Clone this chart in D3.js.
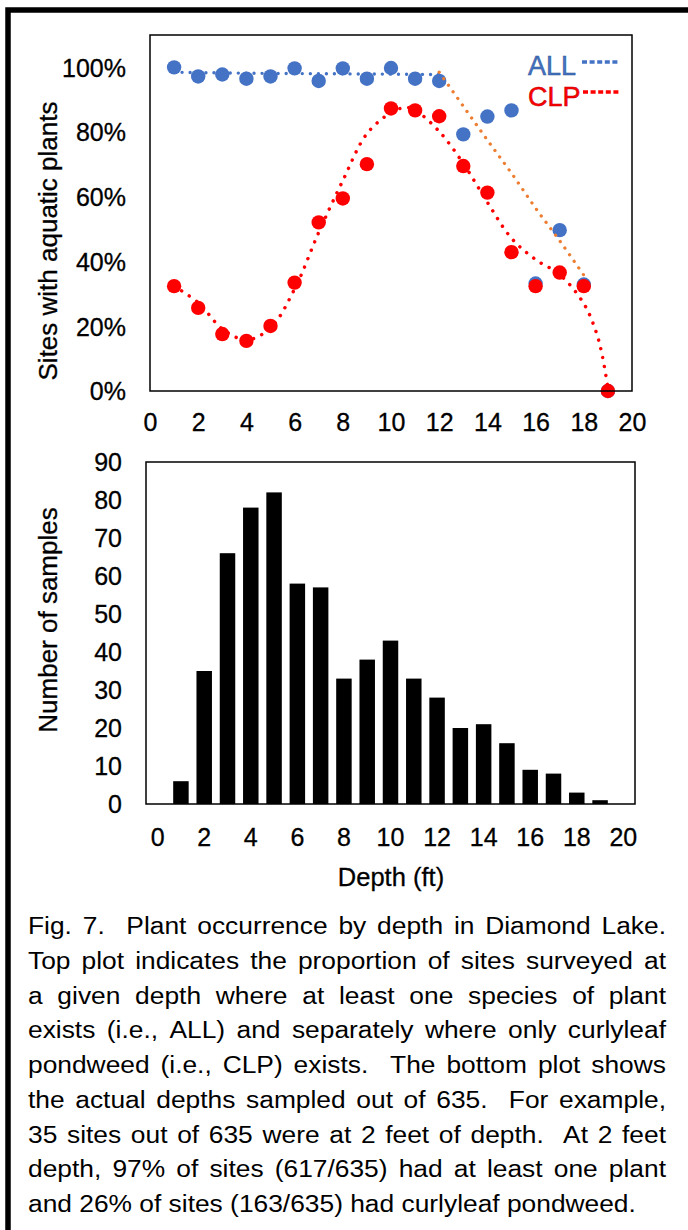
<!DOCTYPE html>
<html><head><meta charset="utf-8">
<script src="https://cdn.jsdelivr.net/npm/d3@7"></script>
<style>html,body{margin:0;padding:0;background:#fff;} svg{display:block;}</style>
</head><body><svg id="c" width="688" height="1230"></svg>
<script>
// ---------- data ----------
const allDepths = [1,2,3,4,5,6,7,8,9,10,11,12,13,14,15,16,17,18,19];
const allPct    = [100,97.2,97.8,96.5,97.2,99.7,95.8,99.7,96.5,99.8,96.5,95.8,79.3,84.8,86.7,33.2,49.7,32.9,0];
const clpDepths = [1,2,3,4,5,6,7,8,9,10,11,12,13,14,15,16,17,18,19];
const clpPct    = [32.4,25.7,17.6,15.5,20.1,33.5,52.1,59.5,70.1,87.3,86.7,84.9,69.5,61.3,42.9,32.4,36.6,32.4,0];
// trend lines
const allTrendX = [1,4,8,12];
const allTrendY = [98.5,98.2,98.0,97.8];
const allTrend2X = [12,13,14,15,16,17,18];
const allTrend2Y = [98.5,88.0,77.5,67.3,56.5,46.4,35.8];
const clpTrendX = [1,2,3,4,5,6,7,8,9,10,10.6,11,12,13,14,15,16,17,18,18.5,18.75,19];
const clpTrendY = [32.4,27.3,19.2,15.8,19.5,31.5,49.0,65.0,79.5,86.0,87.6,86.8,80.2,70.3,58.3,47.2,40.6,36.0,27.0,18.5,11.5,1.0];
const yTopTicks = [0,20,40,60,80,100];
const xTopTicks = [0,2,4,6,8,10,12,14,16,18,20];
const barDepths = [0,1,2,3,4,5,6,7,8,9,10,11,12,13,14,15,16,17,18,19,20];
const barCounts = [0,6,35,66,78,82,58,57,33,38,43,33,28,20,21,16,9,8,3,1,0];
const yBotTicks = [0,10,20,30,40,50,60,70,80,90];
const xBotLabels = [0,2,4,6,8,10,12,14,16,18,20];
const captionLines = [
 "Fig. 7.  Plant occurrence by depth in Diamond Lake.",
 "Top plot indicates the proportion of sites surveyed at",
 "a given depth where at least one species of plant",
 "exists (i.e., ALL) and separately where only curlyleaf",
 "pondweed (i.e., CLP) exists.  The bottom plot shows",
 "the actual depths sampled out of 635.  For example,",
 "35 sites out of 635 were at 2 feet of depth.  At 2 feet",
 "depth, 97% of sites (617/635) had at least one plant",
 "and 26% of sites (163/635) had curlyleaf pondweed."
];

// ---------- drawing ----------
const svg = d3.select("#c");
const FONT = "'Liberation Sans', Arial, sans-serif";
const BLUE = "#4472C4", RED = "#FF0000", ORANGE = "#ED7D31";
const heavy = sel => sel.attr("stroke","#000").attr("stroke-width",0.3);

// outer border (left + top)
svg.append("path").attr("d","M8,1230 V10 H688").attr("fill","none")
  .attr("stroke","#000").attr("stroke-width",5.5);

// ===== top chart =====
const xT = d3.scaleLinear().domain([0,20]).range([150,632]);
const yT = d3.scaleLinear().domain([0,110]).range([391,35]);

const gxT = svg.append("g").attr("transform","translate(0,391)")
  .call(d3.axisBottom(xT).tickValues(xTopTicks).tickSize(0).tickFormat(d3.format("d")));
gxT.select(".domain").remove();
gxT.selectAll("text").attr("y",31).attr("dy","0.35em")
  .style("font-family",FONT).style("font-size","25px").attr("fill","#000").call(heavy);

const gyT = svg.append("g").attr("transform","translate(150,0)")
  .call(d3.axisLeft(yT).tickValues(yTopTicks).tickSize(0).tickFormat(d=>d+"%"));
gyT.select(".domain").remove();
gyT.selectAll("text").attr("x",-24).attr("dy","0.35em")
  .style("font-family",FONT).style("font-size","25px").attr("fill","#000").call(heavy);

svg.append("text").attr("transform","translate(57,241) rotate(-90)")
  .attr("text-anchor","middle").style("font-family",FONT).style("font-size","26px")
  .call(heavy).text("Sites with aquatic plants");

// points
svg.append("g").selectAll("circle").data(allDepths.map((d,i)=>[d,allPct[i]])).join("circle")
  .attr("cx",d=>xT(d[0])).attr("cy",d=>yT(d[1])).attr("r",7.2).attr("fill",BLUE);
svg.append("g").selectAll("circle").data(clpDepths.map((d,i)=>[d,clpPct[i]])).join("circle")
  .attr("cx",d=>xT(d[0])).attr("cy",d=>yT(d[1])).attr("r",7.2).attr("fill",RED);

// trend lines
const lineT = d3.line().x(d=>xT(d[0])).y(d=>yT(d[1])).curve(d3.curveCatmullRom.alpha(0.5));
function dotted(xs, ys, color, dash, w){
  svg.append("path").datum(xs.map((x,i)=>[x,ys[i]])).attr("d",lineT)
    .attr("fill","none").attr("stroke",color).attr("stroke-width",w)
    .attr("stroke-linecap","round").attr("stroke-dasharray",dash);
}
dotted(allTrendX, allTrendY, BLUE, "0.01 8", 3.4);
dotted(clpTrendX, clpTrendY, RED, "0.01 9", 3.5);
dotted(allTrend2X, allTrend2Y, ORANGE, "0.01 8", 3.3);

// frame
svg.append("rect").attr("x",150).attr("y",35).attr("width",482).attr("height",356)
  .attr("fill","none").attr("stroke","#000").attr("stroke-width",1.5);

// legend
svg.append("text").attr("x",528).attr("y",75).attr("fill",BLUE).attr("stroke","#2F528F").attr("stroke-width",0.5)
  .style("font-family",FONT).style("font-size","27px").text("ALL");
svg.append("line").attr("x1",582).attr("x2",618).attr("y1",62).attr("y2",62)
  .attr("stroke",BLUE).attr("stroke-width",3.5).attr("stroke-dasharray","5 2.6");
svg.append("text").attr("x",528).attr("y",106).attr("fill",RED).attr("stroke","#C00000").attr("stroke-width",0.5)
  .style("font-family",FONT).style("font-size","27px").text("CLP");
svg.append("line").attr("x1",583).attr("x2",620).attr("y1",92).attr("y2",92)
  .attr("stroke",RED).attr("stroke-width",3.5).attr("stroke-dasharray","5 2.6");

// ===== bottom chart =====
const xB = d3.scaleBand().domain(barDepths).range([146,635]).paddingInner(0.335).paddingOuter(0.1675);
const yB = d3.scaleLinear().domain([0,90]).range([804,462]);

svg.append("g").selectAll("rect").data(barDepths.map((d,i)=>[d,barCounts[i]])).join("rect")
  .attr("x",d=>xB(d[0])).attr("width",xB.bandwidth())
  .attr("y",d=>yB(d[1])).attr("height",d=>yB(0)-yB(d[1])).attr("fill","#000");

const gxB = svg.append("g").attr("transform","translate(0,804)")
  .call(d3.axisBottom(xB).tickValues(xBotLabels).tickSize(0));
gxB.select(".domain").remove();
gxB.selectAll("text").attr("y",33).attr("dy","0.35em")
  .style("font-family",FONT).style("font-size","25px").attr("fill","#000").call(heavy);

const gyB = svg.append("g").attr("transform","translate(146,0)")
  .call(d3.axisLeft(yB).tickValues(yBotTicks).tickSize(0));
gyB.select(".domain").remove();
gyB.selectAll("text").attr("x",-24).attr("dy","0.35em")
  .style("font-family",FONT).style("font-size","25px").attr("fill","#000").call(heavy);

svg.append("rect").attr("x",146).attr("y",462).attr("width",489).attr("height",342)
  .attr("fill","none").attr("stroke","#000").attr("stroke-width",1.5);

svg.append("text").attr("transform","translate(57,620) rotate(-90)")
  .attr("text-anchor","middle").style("font-family",FONT).style("font-size","26px")
  .call(heavy).text("Number of samples");
svg.append("text").attr("x",391).attr("y",886).attr("text-anchor","middle")
  .style("font-family",FONT).style("font-size","25.5px").call(heavy).text("Depth (ft)");

// ===== caption =====
const CAP_FONT = "'Liberation Sans Narrow', 'Arial Narrow', 'Liberation Sans', sans-serif";
const capL = 28, capR = 666, lastW = 608;
const capG = svg.append("g");
const probe = capG.append("text").style("font-family",CAP_FONT).style("font-size","24.5px")
  .text(captionLines[captionLines.length-1]);
const natW = probe.node().getComputedTextLength();
probe.remove();
const sx = Math.min(1.15, lastW/natW);
captionLines.forEach((line,li)=>{
  const yb = 934 + li*34.75;
  const t = capG.append("text").attr("transform",`translate(${capL},${yb}) scale(${sx},1)`)
    .style("font-family",CAP_FONT).style("font-size","24.5px").attr("fill","#000");
  if (li === captionLines.length-1) { t.text(line); return; }
  const words = line.split(" ");
  const widths = words.map(w=>{
    const p = capG.append("text").style("font-family",CAP_FONT).style("font-size","24.5px").text(w);
    const wd = w ? p.node().getComputedTextLength() : 0; p.remove(); return wd;
  });
  const total = d3.sum(widths);
  const avail = (capR-capL)/sx;
  const gap = (avail-total)/(words.length-1);
  let x = 0;
  words.forEach((w,i)=>{
    if (w) t.append("tspan").attr("x",x).attr("y",0).text(w);
    x += widths[i] + gap;
  });
});
</script></body></html>
